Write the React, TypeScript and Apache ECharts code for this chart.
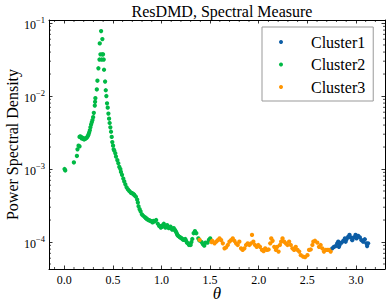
import { useEffect, useRef } from "react";
import * as echarts from "echarts";

// ---- data (theta, power spectral density) ----
const cluster1Theta = [
  2.757, 2.774, 2.791, 2.808, 2.818, 2.825, 2.832, 2.852, 2.870, 2.887, 2.894, 2.903, 2.920, 2.934,
  2.944, 2.962, 2.979, 2.996, 3.006, 3.023, 3.040, 3.057, 3.074, 3.091, 3.108, 3.115, 3.125,
];
const cluster1Psd = [
  8.2e-5, 8.6e-5, 8.8e-5, 9.6e-5, 1.01e-4, 8.6e-5, 9.1e-5, 9.8e-5, 1.04e-4, 1.12e-4, 1.01e-4, 1.09e-4, 1.18e-4, 1.25e-4,
  1.16e-4, 1.06e-4, 1.16e-4, 1.25e-4, 1.12e-4, 1.21e-4, 1.16e-4, 1.06e-4, 1.01e-4, 1.09e-4, 9.6e-5, 8.8e-5, 9.6e-5,
];

const cluster2Theta = [
  0.003, 0.010, 0.099, 0.130, 0.136, 0.147, 0.157, 0.157, 0.164, 0.171, 0.178, 0.184, 0.191, 0.198,
  0.203, 0.208, 0.215, 0.222, 0.232, 0.242, 0.249, 0.256, 0.263, 0.269, 0.276, 0.283, 0.290, 0.297,
  0.304, 0.314, 0.317, 0.320, 0.335, 0.341, 0.351, 0.362, 0.365, 0.372, 0.379, 0.385, 0.392, 0.392,
  0.399, 0.406, 0.409, 0.420, 0.427, 0.433, 0.440, 0.447, 0.454, 0.461, 0.467, 0.474, 0.481, 0.488,
  0.494, 0.502, 0.508, 0.515, 0.525, 0.532, 0.546, 0.556, 0.566, 0.577, 0.583, 0.594, 0.607, 0.617,
  0.628, 0.641, 0.655, 0.668, 0.682, 0.690, 0.696, 0.709, 0.717, 0.723, 0.737, 0.750, 0.757, 0.764,
  0.775, 0.785, 0.798, 0.812, 0.829, 0.840, 0.846, 0.855, 0.867, 0.877, 0.887, 0.897, 0.908, 0.918,
  0.928, 0.945, 0.962, 0.976, 0.993, 1.000, 1.010, 1.017, 1.024, 1.041, 1.058, 1.066, 1.075, 1.092,
  1.100, 1.109, 1.118, 1.126, 1.134, 1.140, 1.146, 1.153, 1.160, 1.167, 1.177, 1.187, 1.197, 1.208,
  1.218, 1.228, 1.236, 1.245, 1.253, 1.262, 1.272, 1.283, 1.290, 1.300, 1.308, 1.317, 1.331, 1.344,
  1.358, 1.379, 1.390, 1.413, 1.426, 1.440, 1.453, 1.474, 1.488, 1.501,
];
const cluster2Psd = [
  1.0e-3, 9.55e-4, 1.23e-3, 1.51e-3, 1.86e-3, 2.09e-3, 2.04e-3, 2.75e-3, 2.8e-3, 2.75e-3, 2.63e-3, 2.69e-3, 2.6e-3, 2.63e-3,
  2.55e-3, 2.57e-3, 2.6e-3, 2.63e-3, 2.69e-3, 2.82e-3, 2.95e-3, 3.16e-3, 3.39e-3, 3.72e-3, 4.07e-3, 4.37e-3, 4.68e-3, 5.13e-3,
  5.89e-3, 7.41e-3, 8.32e-3, 9.33e-3, 1.23e-2, 1.62e-2, 2.4e-2, 3.16e-2, 5.25e-2, 3.72e-2, 7.76e-2, 3.16e-2, 3.72e-2, 6.03e-2,
  3.72e-2, 3.16e-2, 2.29e-2, 1.58e-2, 1.2e-2, 1.0e-2, 7.94e-3, 6.92e-3, 5.75e-3, 4.9e-3, 4.27e-3, 3.72e-3, 3.24e-3, 2.75e-3,
  2.34e-3, 2.09e-3, 1.86e-3, 1.78e-3, 1.64e-3, 1.48e-3, 1.32e-3, 1.2e-3, 1.07e-3, 1.0e-3, 9.12e-4, 8.32e-4, 7.41e-4, 6.76e-4,
  6.17e-4, 5.62e-4, 5.25e-4, 5.01e-4, 4.79e-4, 4.7e-4, 4.68e-4, 4.57e-4, 4.47e-4, 4.37e-4, 4.17e-4, 3.8e-4, 3.47e-4, 3.09e-4,
  2.82e-4, 2.63e-4, 2.4e-4, 2.29e-4, 2.19e-4, 2.12e-4, 2.09e-4, 2.05e-4, 2.0e-4, 1.98e-4, 1.95e-4, 1.91e-4, 1.86e-4, 1.95e-4,
  1.91e-4, 2.0e-4, 1.78e-4, 1.66e-4, 1.58e-4, 1.66e-4, 1.62e-4, 1.7e-4, 1.78e-4, 1.58e-4, 1.7e-4, 1.62e-4, 1.55e-4, 1.62e-4,
  1.55e-4, 1.48e-4, 1.51e-4, 1.55e-4, 1.48e-4, 1.45e-4, 1.4e-4, 1.35e-4, 1.28e-4, 1.23e-4, 1.2e-4, 1.17e-4, 1.15e-4, 1.12e-4,
  1.09e-4, 1.07e-4, 1.08e-4, 1.1e-4, 1.04e-4, 9.8e-5, 9.6e-5, 9.1e-5, 9.3e-5, 9.1e-5, 1.0e-4, 1.1e-4, 1.32e-4, 1.41e-4,
  1.32e-4, 1.12e-4, 1.05e-4, 1.0e-4, 9.33e-5, 8.91e-5, 9.8e-5, 9.8e-5, 1.07e-4, 1.12e-4,
];

const cluster3Theta = [
  1.392, 1.515, 1.522, 1.546, 1.563, 1.580, 1.597, 1.614, 1.631, 1.648, 1.665, 1.682, 1.699, 1.716,
  1.733, 1.750, 1.767, 1.784, 1.801, 1.818, 1.835, 1.853, 1.870, 1.887, 1.904, 1.921, 1.931, 1.945,
  1.962, 1.979, 1.996, 2.013, 2.033, 2.050, 2.067, 2.085, 2.102, 2.119, 2.129, 2.143, 2.160, 2.177,
  2.190, 2.204, 2.218, 2.231, 2.245, 2.262, 2.279, 2.296, 2.313, 2.330, 2.347, 2.364, 2.381, 2.399,
  2.416, 2.433, 2.457, 2.477, 2.501, 2.518, 2.535, 2.552, 2.562, 2.579, 2.603, 2.620, 2.637, 2.654,
  2.671, 2.689, 2.706, 2.723, 2.740,
];
const cluster3Psd = [
  1.07e-4, 1.0e-4, 1.04e-4, 9.6e-5, 1.01e-4, 1.06e-4, 1.12e-4, 1.06e-4, 9.6e-5, 8.2e-5, 8.45e-5, 9.1e-5, 1.01e-4, 1.06e-4,
  1.12e-4, 1.04e-4, 9.6e-5, 9.1e-5, 1.01e-4, 8.2e-5, 7.8e-5, 8.2e-5, 9.1e-5, 9.6e-5, 9.1e-5, 9.6e-5, 1.25e-4, 1.01e-4,
  9.1e-5, 8.6e-5, 9.1e-5, 8.6e-5, 7.8e-5, 7.5e-5, 8.2e-5, 7.8e-5, 7.9e-5, 9.6e-5, 1.12e-4, 1.04e-4, 8.6e-5, 7.8e-5,
  8.6e-5, 7.4e-5, 9.1e-5, 1.01e-4, 1.12e-4, 1.01e-4, 9.6e-5, 9.1e-5, 1.01e-4, 9.1e-5, 8.2e-5, 7.8e-5, 8.6e-5, 7.8e-5,
  7.4e-5, 6.6e-5, 6.3e-5, 6.2e-5, 6.6e-5, 7.8e-5, 7.9e-5, 9.1e-5, 1.01e-4, 1.04e-4, 9.8e-5, 8.6e-5, 9.1e-5, 8.2e-5,
  7.4e-5, 7.8e-5, 7.8e-5, 7.8e-5, 7.4e-5,
];

const seriesNames = ["Cluster1", "Cluster2", "Cluster3"];
const seriesColors = ["#0C5DA5", "#00B945", "#FF9500"];

// axis limits and minor tick positions
const X_MIN = -0.157;
const X_MAX = 3.299;
const Y_MIN = 4.27e-5;
const Y_MAX = 0.11;
const xMinorTicks = [
  -0.1, 0.1, 0.2, 0.3, 0.4, 0.6, 0.7, 0.8, 0.9, 1.1, 1.2, 1.3, 1.4, 1.6, 1.7, 1.8, 1.9,
  2.1, 2.2, 2.3, 2.4, 2.6, 2.7, 2.8, 2.9, 3.1, 3.2,
];
const yMinorTicks = [
  5e-5, 6e-5, 7e-5, 8e-5, 9e-5,
  2e-4, 3e-4, 4e-4, 5e-4, 6e-4, 7e-4, 8e-4, 9e-4,
  2e-3, 3e-3, 4e-3, 5e-3, 6e-3, 7e-3, 8e-3, 9e-3,
  2e-2, 3e-2, 4e-2, 5e-2, 6e-2, 7e-2, 8e-2, 9e-2,
];

const FONT = "Liberation Serif";

function zip(a: number[], b: number[]) {
  return a.map((v, i) => [v, b[i]]);
}

const supFormatter = (v: number) => {
  const e = Math.round(Math.log10(v));
  const s = e < 0 ? "\u2212" + -e : String(e);
  return `{b|10}{s|${s}}`;
};

export default function App() {
  const ref = useRef<HTMLDivElement>(null);
  useEffect(() => {
    if (!ref.current) return;
    const chart = echarts.init(ref.current, undefined, { renderer: "svg" });
    const tickLine = { color: "#000", width: 0.8 };
    const axisLine = { show: true, onZero: false, lineStyle: { color: "#000", width: 1 } };
    const richLabel = {
      b: { fontFamily: FONT, fontSize: 12, color: "#000", verticalAlign: "bottom", lineHeight: 15 },
      s: { fontFamily: FONT, fontSize: 8.5, color: "#000", verticalAlign: "top", lineHeight: 9 },
    };
    const datasets = [zip(cluster1Theta, cluster1Psd), zip(cluster2Theta, cluster2Psd), zip(cluster3Theta, cluster3Psd)];
    const minorStyle = { stroke: "#000", lineWidth: 0.7 };
    chart.setOption({
      animation: false,
      backgroundColor: "#fff",
      title: {
        text: "ResDMD, Spectral Measure",
        left: 217,
        textAlign: "center",
        top: -2,
        textStyle: { fontFamily: FONT, fontSize: 16, fontWeight: "normal", color: "#000" },
      },
      grid: { left: 49, right: 3, top: 20, bottom: 37, containLabel: false, outerBoundsMode: "none" },
      legend: {
        data: seriesNames,
        orient: "vertical",
        left: 262,
        top: 27,
        icon: "circle",
        itemWidth: 12,
        itemHeight: 4,
        itemGap: 4.5,
        padding: [6, 8, 5, 17],
        borderColor: "#999",
        borderWidth: 1,
        borderRadius: 0,
        backgroundColor: "#fff",
        textStyle: { fontFamily: FONT, fontSize: 16, color: "#000", lineHeight: 18, padding: [0, 0, 0, 19] },
      },
      xAxis: [
        {
          type: "value",
          min: X_MIN,
          max: X_MAX,
          splitNumber: 7,
          name: "\u03b8",
          nameLocation: "middle",
          nameGap: 16,
          nameMoveOverlap: false,
          nameTextStyle: { fontFamily: FONT, fontSize: 17, fontStyle: "italic", color: "#000" },
          axisLine,
          axisTick: { show: true, inside: true, length: 3.5, lineStyle: tickLine },
          axisLabel: {
            show: true,
            margin: 5,
            showMinLabel: false,
            showMaxLabel: false,
            fontFamily: FONT,
            fontSize: 12,
            color: "#000",
            formatter: (v: number) => v.toFixed(1),
          },
          splitLine: { show: false },
        },
        {
          type: "value",
          position: "top",
          min: X_MIN,
          max: X_MAX,
          splitNumber: 7,
          axisLine,
          axisTick: { show: true, inside: true, length: 3.5, lineStyle: tickLine },
          axisLabel: { show: false },
          splitLine: { show: false },
        },
      ],
      yAxis: [
        {
          type: "log",
          logBase: 10,
          min: Y_MIN,
          max: Y_MAX,
          name: "Power Spectral Density",
          nameLocation: "middle",
          nameGap: 29,
          nameMoveOverlap: false,
          nameTextStyle: { fontFamily: FONT, fontSize: 16, color: "#000" },
          axisLine,
          axisTick: { show: true, inside: true, length: 3.5, lineStyle: tickLine },
          axisLabel: {
            show: true,
            margin: 4,
            showMinLabel: false,
            showMaxLabel: false,
            formatter: supFormatter,
            rich: richLabel,
          },
          splitLine: { show: false },
        },
        {
          type: "log",
          logBase: 10,
          position: "right",
          min: Y_MIN,
          max: Y_MAX,
          axisLine,
          axisTick: { show: true, inside: true, length: 3.5, lineStyle: tickLine },
          axisLabel: { show: false },
          splitLine: { show: false },
        },
      ],
      series: [
        ...seriesNames.map((name, i) => ({
          name,
          type: "scatter",
          xAxisIndex: 0,
          yAxisIndex: 0,
          symbol: "circle",
          symbolSize: 4.3,
          itemStyle: { color: seriesColors[i], opacity: 1 },
          data: datasets[i],
          z: 3 + i,
        })),
        {
          type: "custom",
          name: "xMinor",
          xAxisIndex: 0,
          yAxisIndex: 0,
          silent: true,
          clip: false,
          z: 10,
          data: xMinorTicks.map((v) => [v, 1e-4]),
          renderItem: (params: any, api: any) => {
            const cs = params.coordSys;
            const x = api.coord([api.value(0), 1e-4])[0];
            const b = cs.y + cs.height;
            return {
              type: "group",
              children: [
                { type: "line", shape: { x1: x, y1: b, x2: x, y2: b - 2 }, style: minorStyle },
                { type: "line", shape: { x1: x, y1: cs.y, x2: x, y2: cs.y + 2 }, style: minorStyle },
              ],
            };
          },
        },
        {
          type: "custom",
          name: "yMinor",
          xAxisIndex: 0,
          yAxisIndex: 0,
          silent: true,
          clip: false,
          z: 10,
          data: yMinorTicks.map((v) => [0, v]),
          renderItem: (params: any, api: any) => {
            const cs = params.coordSys;
            const y = api.coord([0, api.value(1)])[1];
            const r = cs.x + cs.width;
            return {
              type: "group",
              children: [
                { type: "line", shape: { x1: cs.x, y1: y, x2: cs.x + 2, y2: y }, style: minorStyle },
                { type: "line", shape: { x1: r, y1: y, x2: r - 2, y2: y }, style: minorStyle },
              ],
            };
          },
        },
      ],
    });
    return () => chart.dispose();
  }, []);
  return (
    <div
      ref={ref}
      style={{ position: "fixed", left: 0, top: 0, width: 388, height: 306, background: "#fff" }}
    />
  );
}
